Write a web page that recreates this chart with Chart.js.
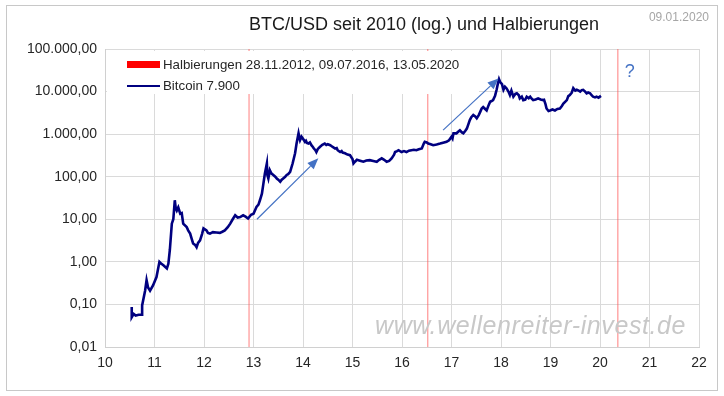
<!DOCTYPE html>
<html>
<head>
<meta charset="utf-8">
<script src="https://cdn.jsdelivr.net/npm/chart.js@4.4.1/dist/chart.umd.min.js"></script>
<style>
    html, body { margin: 0; padding: 0; background: #fff; }
</style>
</head>
<body>
<canvas id="chart" width="724" height="396"></canvas>
<script>
// Bitcoin in USD, x = year (10 = 2010)
const btcYears = [10.54, 10.54, 10.58, 10.62, 10.68, 10.75, 10.75, 10.81, 10.84, 10.87, 10.91, 10.97, 11.04, 11.10, 11.14, 11.18, 11.25, 11.28, 11.31, 11.35,
    11.38, 11.41, 11.43, 11.45, 11.48, 11.52, 11.55, 11.58, 11.65, 11.68, 11.72, 11.75, 11.78, 11.82, 11.85, 11.88, 11.92, 11.96, 11.99, 12.05,
    12.08, 12.12, 12.18, 12.25, 12.32, 12.37, 12.42, 12.48, 12.53, 12.58, 12.63, 12.68, 12.73, 12.79, 12.84, 12.89, 12.95, 13.00, 13.06, 13.10,
    13.13, 13.17, 13.20, 13.23, 13.27, 13.28, 13.30, 13.33, 13.36, 13.40, 13.44, 13.47, 13.50, 13.54, 13.57, 13.60, 13.64, 13.67, 13.70, 13.74,
    13.79, 13.84, 13.87, 13.91, 13.93, 13.94, 13.97, 14.00, 14.04, 14.06, 14.08, 14.11, 14.14, 14.17, 14.20, 14.22, 14.25, 14.27, 14.30, 14.34,
    14.39, 14.44, 14.47, 14.50, 14.55, 14.58, 14.60, 14.65, 14.68, 14.70, 14.75, 14.78, 14.80, 14.85, 14.88, 14.90, 14.95, 15.00, 15.02, 15.05,
    15.09, 15.12, 15.17, 15.22, 15.28, 15.35, 15.42, 15.49, 15.54, 15.59, 15.64, 15.69, 15.74, 15.79, 15.84, 15.86, 15.90, 15.93, 15.99, 16.04,
    16.09, 16.14, 16.19, 16.24, 16.29, 16.34, 16.40, 16.44, 16.46, 16.50, 16.53, 16.58, 16.63, 16.70, 16.77, 16.83, 16.90, 16.95, 17.00, 17.02,
    17.04, 17.10, 17.14, 17.17, 17.21, 17.24, 17.28, 17.31, 17.34, 17.37, 17.40, 17.44, 17.48, 17.51, 17.55, 17.58, 17.61, 17.64, 17.68, 17.71,
    17.75, 17.78, 17.81, 17.84, 17.88, 17.91, 17.94, 17.96, 17.98, 18.02, 18.05, 18.08, 18.11, 18.15, 18.18, 18.21, 18.25, 18.29, 18.32, 18.36,
    18.38, 18.42, 18.45, 18.49, 18.52, 18.56, 18.59, 18.62, 18.65, 18.70, 18.75, 18.80, 18.85, 18.87, 18.90, 18.92, 18.96, 18.99, 19.04, 19.09,
    19.14, 19.19, 19.23, 19.26, 19.30, 19.33, 19.36, 19.39, 19.43, 19.46, 19.50, 19.53, 19.57, 19.60, 19.63, 19.66, 19.70, 19.73, 19.76, 19.80,
    19.83, 19.86, 19.90, 19.93, 19.97, 20.02];
const btcPrices = [0.087, 0.05, 0.06, 0.055, 0.057, 0.057, 0.095, 0.21, 0.37, 0.25, 0.21, 0.28, 0.44, 1.0, 0.9, 0.83, 0.7, 0.9, 1.9, 7.9,
    10, 28, 18, 16, 19, 13.5, 14, 7.9, 6.6, 5.5, 4.6, 3.5, 2.7, 2.5, 2.2, 2.8, 3.2, 4.5, 6.1, 5.5,
    4.8, 4.6, 5.0, 4.9, 4.8, 5.1, 5.5, 6.5, 7.9, 10, 12.4, 11, 11.3, 12.4, 11.5, 10.4, 12.8, 13.5, 19.5, 22,
    28, 40, 69, 119, 205, 110, 91, 142, 120, 110, 100, 91, 85, 76, 85, 91, 100, 110, 115, 130,
    204, 355, 600, 1045, 800, 720, 870, 780, 660, 700, 620, 600, 640, 550, 500, 460, 420, 380, 450, 500,
    560, 600, 560, 580, 550, 520, 500, 460, 470, 420, 380, 400, 370, 355, 340, 330, 320, 260, 205, 225,
    250, 245, 235, 225, 240, 245, 235, 225, 250, 270, 250, 225, 235, 270, 330, 380, 400, 420, 380, 400,
    380, 410, 420, 430, 420, 440, 460, 600, 660, 640, 600, 580, 550, 570, 600, 630, 660, 720, 870, 790,
    1045, 1045, 1150, 1230, 1100, 1045, 1200, 1350, 1700, 2140, 2500, 2820, 2600, 2350, 2800, 3330, 4000, 4340, 3900, 3610,
    4800, 5760, 6000, 6300, 8000, 10900, 16000, 19500, 17000, 15000, 11000, 13000, 12000, 10000, 8300, 10500, 7600, 8800, 9100, 8200,
    6900, 7600, 6300, 6500, 7600, 7000, 7600, 6800, 6300, 6500, 6900, 6500, 6300, 6400, 5000, 4000, 3500, 3600, 3800, 3600,
    3900, 4000, 4600, 5200, 5800, 6300, 7800, 8300, 9500, 12000, 10500, 11000, 10500, 10000, 10800, 11000, 10000, 9100, 9500, 9100,
    8200, 7600, 7300, 7600, 7200, 7900];

// Halvings: 28.11.2012, 09.07.2016, 13.05.2020
const halvingYears = [12.91, 16.52, 20.36];

const yTicks = [0.01, 0.1, 1, 10, 100, 1000, 10000, 100000];
const yTickLabels = ["0,01", "0,10", "1,00", "10,00", "100,00", "1.000,00", "10.000,00", "100.000,00"];

// annotation arrows [fromYear, fromPrice, toYear, toPrice]
const arrows = [
    [13.07, 10, 14.31, 270],
    [16.83, 1240, 17.95, 20400]
];

const FONT = "'Liberation Sans', Arial, sans-serif";

let drawArrow = function (ctx, x1, y1, x2, y2) {
    const ang = Math.atan2(y2 - y1, x2 - x1);
    const len = 11, half = 4.5;
    const bx = x2 - len * Math.cos(ang), by = y2 - len * Math.sin(ang);
    ctx.strokeStyle = "#4472c4";
    ctx.fillStyle = "#4472c4";
    ctx.lineWidth = 1.2;
    ctx.beginPath();
    ctx.moveTo(x1, y1);
    ctx.lineTo(bx, by);
    ctx.stroke();
    ctx.beginPath();
    ctx.moveTo(x2, y2);
    ctx.lineTo(bx + half * Math.sin(ang), by - half * Math.cos(ang));
    ctx.lineTo(bx - half * Math.sin(ang), by + half * Math.cos(ang));
    ctx.closePath();
    ctx.fill();
};

const decorations = {
    id: "decorations",
    beforeDraw(chart) {
        const ctx = chart.ctx;
        ctx.save();
        ctx.fillStyle = "#fff";
        ctx.fillRect(0, 0, chart.width, chart.height);
        ctx.strokeStyle = "#c8c8c8";
        ctx.lineWidth = 1;
        ctx.strokeRect(6.5, 5.5, 711, 385);
        ctx.restore();
    },
    afterDatasetsDraw(chart) {
        const ctx = chart.ctx;
        const xs = chart.scales.x, ys = chart.scales.y;
        ctx.save();

        // watermark
        ctx.font = "italic 25px " + FONT;
        ctx.fillStyle = "#c8c8c8";
        ctx.textAlign = "left";
        ctx.textBaseline = "middle";
        ctx.letterSpacing = "0.6px";
        ctx.fillText("www.wellenreiter-invest.de", 375, 327);
        ctx.letterSpacing = "0px";

        // legend box covers grid like in Excel
        ctx.fillStyle = "#fff";
        ctx.fillRect(107, 51, 372, 43);
        ctx.fillStyle = "#ff0000";
        ctx.fillRect(127, 61, 33, 7);
        ctx.strokeStyle = "#000080";
        ctx.lineWidth = 2;
        ctx.beginPath();
        ctx.moveTo(127, 86);
        ctx.lineTo(160, 86);
        ctx.stroke();
        ctx.font = "13.3px " + FONT;
        ctx.fillStyle = "#262626";
        ctx.fillText("Halbierungen 28.11.2012, 09.07.2016, 13.05.2020", 163, 65);
        ctx.fillText("Bitcoin 7.900", 163, 86);

        for (const a of arrows) {
            drawArrow(ctx, xs.getPixelForValue(a[0]), ys.getPixelForValue(a[1]),
                xs.getPixelForValue(a[2]), ys.getPixelForValue(a[3]));
        }

        ctx.font = "18px " + FONT;
        ctx.fillStyle = "#4472c4";
        ctx.textAlign = "center";
        ctx.fillText("?", xs.getPixelForValue(20.6), ys.getPixelForValue(29000));

        // title + date
        ctx.font = "18px " + FONT;
        ctx.fillStyle = "#1a1a1a";
        ctx.fillText("BTC/USD seit 2010 (log.) und Halbierungen", 424, 25);
        ctx.font = "12px " + FONT;
        ctx.fillStyle = "#a6a6a6";
        ctx.textAlign = "right";
        ctx.fillText("09.01.2020", 709, 18);
        ctx.restore();
    }
};

const datasets = halvingYears.map(h => ({
    data: [{x: h, y: 0.01}, {x: h, y: 100000}],
    borderColor: "rgba(255, 90, 90, 0.6)",
    borderWidth: 1.3,
    pointRadius: 0,
    order: 2
}));
datasets.push({
    label: "Bitcoin",
    data: btcYears.map((y, i) => ({x: y, y: btcPrices[i]})),
    borderColor: "#000080",
    borderWidth: 2.6,
    pointRadius: 0,
    tension: 0,
    order: 1
});

new Chart(document.getElementById("chart"), {
    type: "line",
    data: {datasets: datasets},
    options: {
        responsive: false,
        animation: false,
        layout: {padding: {left: 0, top: 49, right: 25, bottom: 0}},
        plugins: {legend: {display: false}, title: {display: false}, tooltip: {enabled: false}},
        scales: {
            x: {
                type: "linear",
                min: 10,
                max: 22,
                afterFit: (s) => { s.height = 49; },
                grid: {color: "#dadada", drawTicks: false},
                border: {color: "#d0d0d0"},
                ticks: {
                    stepSize: 1,
                    padding: 8,
                    color: "#262626",
                    font: {family: FONT, size: 14},
                    callback: (v) => String(v)
                }
            },
            y: {
                type: "logarithmic",
                min: 0.01,
                max: 100000,
                afterFit: (s) => { s.width = 105; },
                afterBuildTicks: (s) => { s.ticks = yTicks.map(v => ({value: v})); },
                grid: {color: "#dadada", drawTicks: false},
                border: {color: "#d0d0d0"},
                ticks: {
                    padding: 8,
                    color: "#262626",
                    font: {family: FONT, size: 14},
                    callback: (v, i) => yTickLabels[i]
                }
            }
        }
    },
    plugins: [decorations]
});
</script>
</body>
</html>
